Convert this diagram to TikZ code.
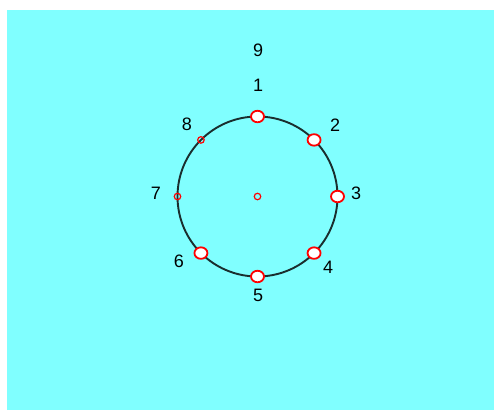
\documentclass[tikz,border=0pt]{standalone}
\usepackage{fontspec}
\setmainfont{Liberation Sans}
\usetikzlibrary{shapes.geometric,calc}
\definecolor{bgcyan}{HTML}{80FFFF}
\definecolor{ringcol}{HTML}{1A2E2E}
\begin{document}
\begin{tikzpicture}[x=1pt,y=-1pt,
  bigmark/.style={ellipse,draw=red,fill=white,line width=1.8pt,minimum width=13pt,minimum height=11.5pt,inner sep=0pt},
  smallmark/.style={circle,draw=red,line width=1.2pt,minimum size=6.5pt,inner sep=0pt},
  lab/.style={font=\fontsize{18}{18}\selectfont,inner sep=0pt}]
\useasboundingbox (0,0) rectangle (494,410);
\fill[bgcyan] (7,10) rectangle (494,410);
\coordinate (c) at (257.5,196.5);
\node[circle,draw=ringcol,line width=1.9pt,minimum size=160pt,inner sep=0pt] (ring) at (c) {};
\node[smallmark] (m0) at (c) {};
\node[bigmark] (m1) at ($(c)+(90:80pt)$) {};
\node[bigmark] (m2) at ($(c)+(45:80pt)$) {};
\node[bigmark] (m3) at ($(c)+(0:80pt)$) {};
\node[bigmark] (m4) at ($(c)+(-45:80pt)$) {};
\node[bigmark] (m5) at ($(c)+(-90:80pt)$) {};
\node[bigmark] (m6) at ($(c)+(-135:80pt)$) {};
\node[smallmark] (m7) at ($(c)+(180:80pt)$) {};
\node[smallmark] (m8) at ($(c)+(135:80pt)$) {};
\node[lab] (l1) at (258,85) {1};
\node[lab] (l2) at (335,125) {2};
\node[lab] (l3) at (356,193) {3};
\node[lab] (l4) at (328,267) {4};
\node[lab] (l5) at (258,295) {5};
\node[lab] (l6) at (179,261) {6};
\node[lab] (l7) at (156,193) {7};
\node[lab] (l8) at (187,124) {8};
\node[lab] (l9) at (258,50) {9};
\end{tikzpicture}
\end{document}
